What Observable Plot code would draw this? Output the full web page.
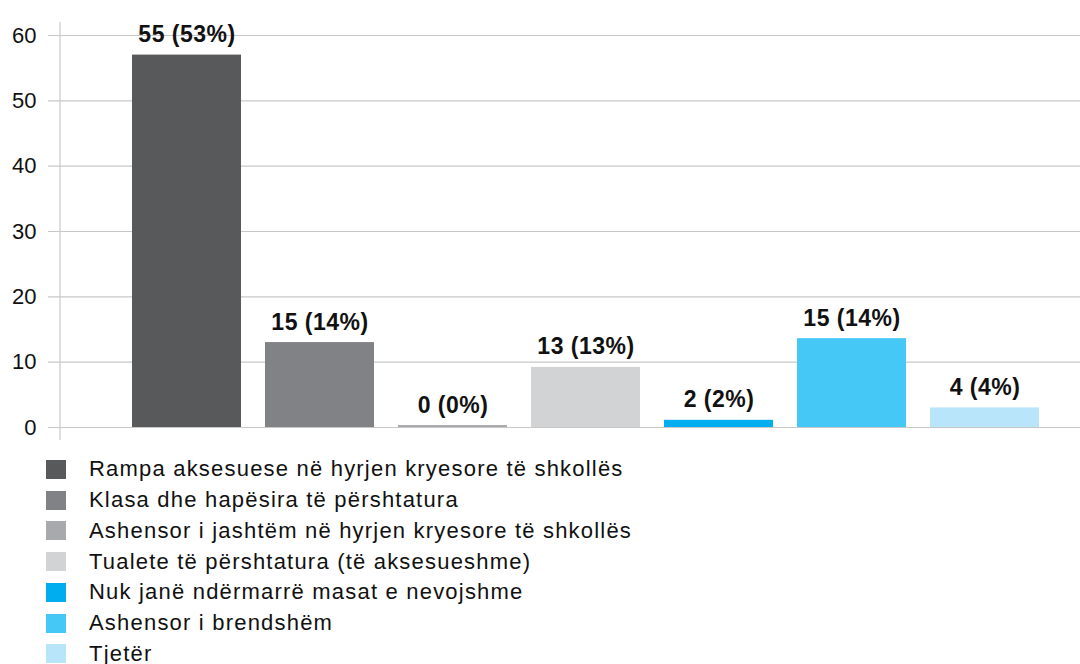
<!DOCTYPE html>
<html>
<head>
<meta charset="utf-8">
<script src="https://cdn.jsdelivr.net/npm/d3@7"></script>
<script src="https://cdn.jsdelivr.net/npm/@observablehq/plot@0.6"></script>
<style>
  html, body { margin: 0; padding: 0; background: #fff; overflow: hidden; }
  body { font-family: "Liberation Sans", Arial, sans-serif; color: #111; }
  #legend { padding-left: 46px; margin-top: 4px; }
  .row { display: flex; align-items: center; height: 30.75px; font-size: 22px; letter-spacing: 1.2px; }
  .sw { width: 20px; height: 19px; margin-right: 23px; flex: none; }
</style>
</head>
<body>
<div id="chart"></div>
<div id="legend"></div>
<script>
const categories = [
  "Rampa aksesuese në hyrjen kryesore të shkollës",
  "Klasa dhe hapësira të përshtatura",
  "Ashensor i jashtëm në hyrjen kryesore të shkollës",
  "Tualete të përshtatura (të aksesueshme)",
  "Nuk janë ndërmarrë masat e nevojshme",
  "Ashensor i brendshëm",
  "Tjetër"
];
// bar heights as drawn in the picture
const values = [57, 13, 0.3, 9.2, 1.1, 13.6, 3];
const labels = ["55 (53%)", "15 (14%)", "0 (0%)", "13 (13%)", "2 (2%)", "15 (14%)", "4 (4%)"];
const colors = ["#58595b", "#808285", "#a7a9ac", "#d1d3d4", "#00aeef", "#45c8f5", "#b9e5fb"];
const yTicks = [0, 10, 20, 30, 40, 50, 60];

const data = categories.map((c, i) => ({category: c, value: values[i], label: labels[i]}));

const chart = Plot.plot({
  width: 1080,
  height: 450,
  marginLeft: 60,
  marginRight: 0,
  marginTop: 22,
  marginBottom: 10,
  style: {fontFamily: '"Liberation Sans", Arial, sans-serif', color: "#111", background: "#fff", overflow: "visible"},
  x: {domain: categories, axis: null, paddingInner: 0.179, paddingOuter: 0, insetLeft: 69, insetRight: 37},
  y: {domain: [0, 60], insetTop: 13, insetBottom: 13, axis: null},
  color: {domain: categories, range: colors},
  marks: [
    Plot.ruleY(yTicks, {stroke: "#c8c8c8", strokeWidth: 1.2, insetLeft: -12}),
    Plot.axisY(yTicks, {tickSize: 0, tickPadding: 24, fontSize: 22, label: null, fill: "#111"}),
    (index, scales, values, dimensions) => {
      const l = document.createElementNS("http://www.w3.org/2000/svg", "line");
      l.setAttribute("x1", dimensions.marginLeft);
      l.setAttribute("x2", dimensions.marginLeft);
      l.setAttribute("y1", dimensions.marginTop);
      l.setAttribute("y2", dimensions.height - dimensions.marginBottom);
      l.setAttribute("stroke", "#c8c8c8");
      l.setAttribute("stroke-width", 1.2);
      return l;
    },
    Plot.barY(data, {x: "category", y: "value", fill: "category"}),
    Plot.text(data, {x: "category", y: "value", text: "label", dy: -13, lineAnchor: "bottom",
      fontSize: 23, fontWeight: "bold", fill: "#111", style: "letter-spacing: 0.5px"})
  ]
});
document.getElementById("chart").appendChild(chart);
chart.querySelectorAll("text").forEach(t => {
  if (t.getAttribute("font-weight") === "bold" || (t.parentNode && t.parentNode.getAttribute("font-weight") === "bold")) {
    t.style.letterSpacing = "0.5px";
  }
});

const legend = document.getElementById("legend");
categories.forEach((c, i) => {
  const row = document.createElement("div");
  row.className = "row";
  const sw = document.createElement("span");
  sw.className = "sw";
  sw.style.background = colors[i];
  const t = document.createElement("span");
  t.textContent = c;
  row.appendChild(sw);
  row.appendChild(t);
  legend.appendChild(row);
});
</script>
</body>
</html>
